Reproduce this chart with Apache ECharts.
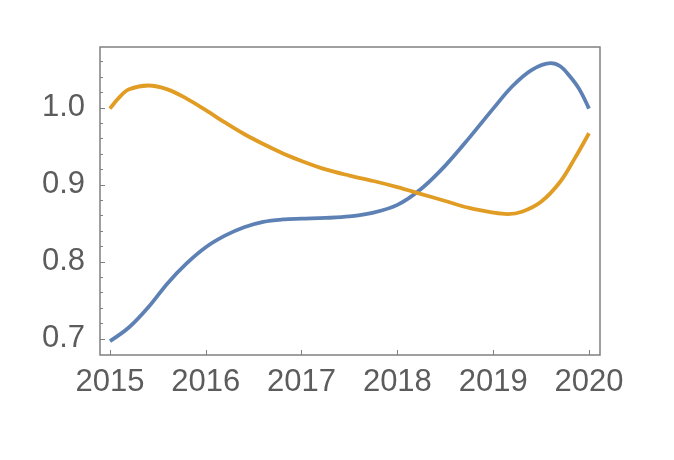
<!DOCTYPE html>
<html>
<head>
<meta charset="utf-8">
<script src="https://cdn.jsdelivr.net/npm/echarts@6/dist/echarts.min.js"></script>
<style>html,body{margin:0;padding:0;background:#fff}#c{width:674px;height:460px}</style>
</head>
<body>
<div id="c"></div>
<script>
const blueYears = [2015, 2015.2, 2015.4, 2015.6, 2015.8, 2016, 2016.2, 2016.4, 2016.6, 2016.8, 2017, 2017.25, 2017.5, 2017.75, 2018, 2018.25, 2018.5, 2018.75, 2019, 2019.2, 2019.4, 2019.6, 2019.7, 2019.8, 2019.9, 2020];
const blueValues = [0.697, 0.715, 0.741, 0.772, 0.798, 0.819, 0.834, 0.845, 0.852, 0.855, 0.856, 0.857, 0.859, 0.864, 0.874, 0.895, 0.925, 0.961, 0.999, 1.028, 1.049, 1.058, 1.054, 1.041, 1.024, 0.999];
const orangeYears = [2015, 2015.1, 2015.2, 2015.4, 2015.6, 2015.8, 2016, 2016.2, 2016.4, 2016.6, 2016.8, 2017, 2017.25, 2017.5, 2017.75, 2018, 2018.25, 2018.5, 2018.75, 2019, 2019.15, 2019.3, 2019.5, 2019.7, 2019.85, 2020];
const orangeValues = [0.999, 1.014, 1.024, 1.029, 1.024, 1.012, 0.997, 0.981, 0.966, 0.953, 0.941, 0.931, 0.920, 0.912, 0.905, 0.897, 0.888, 0.879, 0.870, 0.864, 0.862, 0.865, 0.878, 0.904, 0.934, 0.967];
const xTicks = [2015, 2016, 2017, 2018, 2019, 2020];
const yTicks = [0.7, 0.8, 0.9, 1.0];
const yMinorTicks = [0.72, 0.74, 0.76, 0.78, 0.82, 0.84, 0.86, 0.88, 0.92, 0.94, 0.96, 0.98, 1.02, 1.04, 1.06];

const pair = (xs, ys) => xs.map((x, i) => [x, ys[i]]);
const labelStyle = { color: '#5c5c5c', fontSize: 31, fontFamily: 'Liberation Sans, Arial, sans-serif' };

const chart = echarts.init(document.getElementById('c'), null, { renderer: 'canvas' });
chart.setOption({
  animation: false,
  grid: { left: 100, right: 74, top: 47, bottom: 105, show: true, borderColor: '#808080', borderWidth: 1.5, backgroundColor: 'transparent' },
  xAxis: {
    type: 'value', min: 2014.896, max: 2020.115,
    axisLine: { show: false },
    splitLine: { show: false },
    axisTick: { show: true, inside: true, length: 5, customValues: xTicks, lineStyle: { color: '#808080', width: 1 } },
    axisLabel: Object.assign({ customValues: xTicks, margin: 12, formatter: v => String(Math.round(v)) }, labelStyle)
  },
  yAxis: [{
    type: 'value', min: 0.679, max: 1.079,
    axisLine: { show: false },
    splitLine: { show: false },
    axisTick: { show: true, inside: true, length: 5, customValues: yTicks, lineStyle: { color: '#808080', width: 1 } },
    axisLabel: Object.assign({ customValues: yTicks, margin: 15, formatter: v => v.toFixed(1) }, labelStyle)
  }, {
    type: 'value', min: 0.679, max: 1.079, position: 'left',
    axisLine: { show: false },
    splitLine: { show: false },
    axisLabel: { show: false },
    axisTick: { show: true, inside: true, length: 3, customValues: yMinorTicks, lineStyle: { color: '#808080', width: 1 } }
  }],
  series: [{
    type: 'line', data: pair(blueYears, blueValues), smooth: 0.35, showSymbol: false,
    lineStyle: { color: '#5e81b5', width: 3.8 }
  }, {
    type: 'line', data: pair(orangeYears, orangeValues), smooth: 0.35, showSymbol: false,
    lineStyle: { color: '#e19c24', width: 3.8 }
  }]
});
</script>
</body>
</html>
